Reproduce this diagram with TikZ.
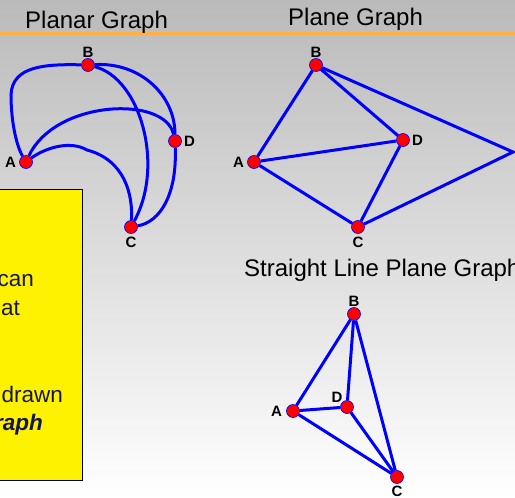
\documentclass[tikz,border=0pt]{standalone}
\usepackage{fontspec}
\setmainfont{Liberation Sans}
\definecolor{slideorange}{RGB}{255,176,64}
\definecolor{boxtext}{RGB}{20,20,80}
\tikzset{
  vtx/.style={circle, draw=blue, fill=red, inner sep=0pt, minimum size=13pt, line width=0.6pt},
  lbl/.style={font=\bfseries\fontsize{15}{15}\selectfont, inner sep=1pt},
  ed/.style={blue, line width=3pt},
  ttl/.style={font=\fontsize{24}{28}\selectfont, anchor=base west, inner sep=0pt},
  boxtxt/.style={font=\fontsize{22.5}{27}\selectfont, text=boxtext, anchor=base east, inner sep=0pt}
}
\begin{document}
\begin{tikzpicture}[x=1pt, y=-1pt]
  \useasboundingbox (0,0) rectangle (515,498);
  \fill[top color=black!27, bottom color=white] (0,0) rectangle (515,498);
  \draw[slideorange, line width=3pt] (0,33) -- (515,33);
  % titles
  \node[ttl] (t1) at (25,28) {Planar Graph};
  \node[ttl] (t2) at (288,25) {Plane Graph};
  \node[ttl] (t3) at (244,276) {Straight Line Plane Graph};
  % yellow box
  \draw[fill=yellow, line width=0.8pt] (-5,189) rectangle (82.5,480.5);
  \node[boxtxt] (w1) at (34,286) {can};
  \node[boxtxt] (w2) at (20,315) {at};
  \node[boxtxt] (w3) at (63,402) {drawn};
  \node[boxtxt, font=\bfseries\itshape\fontsize{22.5}{27}\selectfont] (w4) at (43,430) {raph};
  % planar graph
  \node[vtx, label={[lbl, label distance=0pt]above:B}] (pb) at (88,65) {};
  \node[vtx, label={[lbl, label distance=1pt]right:D}] (pd) at (175,141) {};
  \node[vtx, label={[lbl, label distance=2pt]left:A}] (pa) at (26,162) {};
  \node[vtx, label={[lbl, label distance=2pt]below:C}] (pc) at (131,227) {};
  \draw[ed] (pb) .. controls (45,64) and (12,66) .. (11,95)
                 .. controls (11,120) and (16,145) .. (pa);
  \draw[ed] (pa) .. controls (55,100) and (165,95) .. (pd);
  \draw[ed] (pa) .. controls (45,148) and (70,140) .. (87,150)
                 .. controls (125,160) and (133,195) .. (pc);
  \draw[ed] (pb) .. controls (140,78) and (165,165) .. (pc);
  \draw[ed] (pb) .. controls (140,62) and (175,95) .. (pd);
  \draw[ed] (pd) .. controls (177,195) and (160,222) .. (pc);
  % plane graph
  \node[vtx, label={[lbl, label distance=0pt]above:B}] (qb) at (316,65) {};
  \node[vtx, label={[lbl, label distance=1pt]right:D}] (qd) at (403,140) {};
  \node[vtx, label={[lbl, label distance=2pt]left:A}] (qa) at (254,162) {};
  \node[vtx, label={[lbl, label distance=2pt]below:C}] (qc) at (358,227) {};
  \coordinate (qk) at (513,152);
  \draw[ed] (qa) -- (qb);
  \draw[ed] (qb) -- (qd);
  \draw[ed] (qa) -- (qd);
  \draw[ed] (qa) -- (qc);
  \draw[ed] (qd) -- (qc);
  \draw[ed, line join=miter] (qb) -- (qk) -- (qc);
  % straight line plane graph
  \node[vtx, label={[lbl, label distance=0pt]above:B}] (sb) at (354,314) {};
  \node[vtx, label={[lbl, label distance=-2pt]above left:D}] (sd) at (347,407) {};
  \node[vtx, label={[lbl, label distance=3pt]left:A}] (sa) at (293,411) {};
  \node[vtx, label={[lbl, label distance=1pt]below:C}] (sc) at (397,477) {};
  \draw[ed] (sa) -- (sb);
  \draw[ed] (sb) -- (sd);
  \draw[ed] (sb) -- (sc);
  \draw[ed] (sa) -- (sd);
  \draw[ed] (sa) -- (sc);
  \draw[ed] (sd) -- (sc);
\end{tikzpicture}
\end{document}
